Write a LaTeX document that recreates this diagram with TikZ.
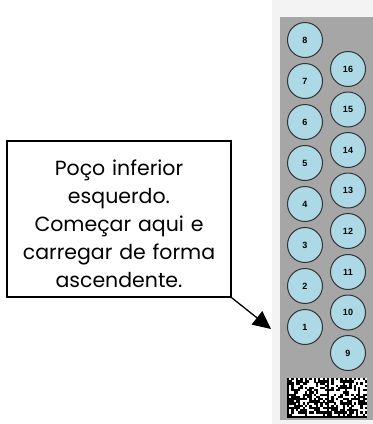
\documentclass[tikz,border=0pt]{standalone}
\usepackage{fontspec}
\setmainfont{Poppins}
\newfontfamily\numfont{Liberation Sans}
\usepackage{tikz}
\usetikzlibrary{arrows.meta, positioning}
\definecolor{traygray}{HTML}{A6A6A6}
\definecolor{trayedge}{HTML}{F3F3F3}
\definecolor{wellblue}{HTML}{ADD8E6}
\definecolor{welledge}{HTML}{333333}
\tikzset{
  well/.style={circle, draw=welledge, line width=1pt, fill=wellblue,
    font=\numfont\bfseries\fontsize{9}{10}\selectfont, minimum size=35pt, inner sep=0pt},
  callout/.style={rectangle, draw=black, line width=1.6pt, fill=white,
    minimum width=224pt, minimum height=156pt, inner sep=0pt},
  callouttext/.style={font=\fontsize{20.5}{28}\selectfont,
    align=center, text width=220pt, inner sep=0pt},
  pointer/.style={-{Triangle[length=18pt,width=17pt]}, draw=black, line width=1.3pt},
}

\begin{document}
\begin{tikzpicture}[x=1pt, y=-1pt]
\useasboundingbox (0,0) rectangle (373,424);

\fill[trayedge] (272,0) rectangle (373,424);
\fill[traygray] (280,17) rectangle (373,420);

\node[well] (W8) at (305,40) {8};
\node[well] (W7) at (305,81) {7};
\node[well] (W6) at (305,122) {6};
\node[well] (W5) at (305,163) {5};
\node[well] (W4) at (305,204) {4};
\node[well] (W3) at (305,245) {3};
\node[well] (W2) at (305,286) {2};
\node[well] (W1) at (305,327) {1};

\node[well] (W16) at (348,69) {16};
\node[well] (W15) at (348,109.5) {15};
\node[well] (W14) at (348,150) {14};
\node[well] (W13) at (348,190.5) {13};
\node[well] (W12) at (348,231) {12};
\node[well] (W11) at (348,272) {11};
\node[well] (W10) at (348,312.5) {10};
\node[well] (W9) at (348,353) {9};

\fill[white] (287,378) rectangle (367,418);
\pgfmathsetseed{11}
\foreach \b in {0,1} {
  \foreach \i in {0,...,17} {
    \foreach \j in {0,...,17} {
      \pgfmathtruncatemacro\k{(\i==0)||(\j==17) ? 1 : ((\j==0) ? mod(\i+1,2) : ((\i==17) ? mod(\j,2) : (rnd<0.5)))}
      \ifnum\k=1
        \fill[black] (287+40*\b+\i*2.222, 378+\j*2.222) rectangle ++(2.3,2.3);
      \fi
    }
  }
}

\node[callout] (C) at (119,219) {};
\node[callouttext] (T) at ([yshift=-5pt]C.center) {Poço inferior\\esquerdo.\\Começar aqui e\\carregar de forma\\ascendente.};
\coordinate (tip) at (271,329);
\draw[pointer] (C.south east) -- (tip);

\end{tikzpicture}
\end{document}
